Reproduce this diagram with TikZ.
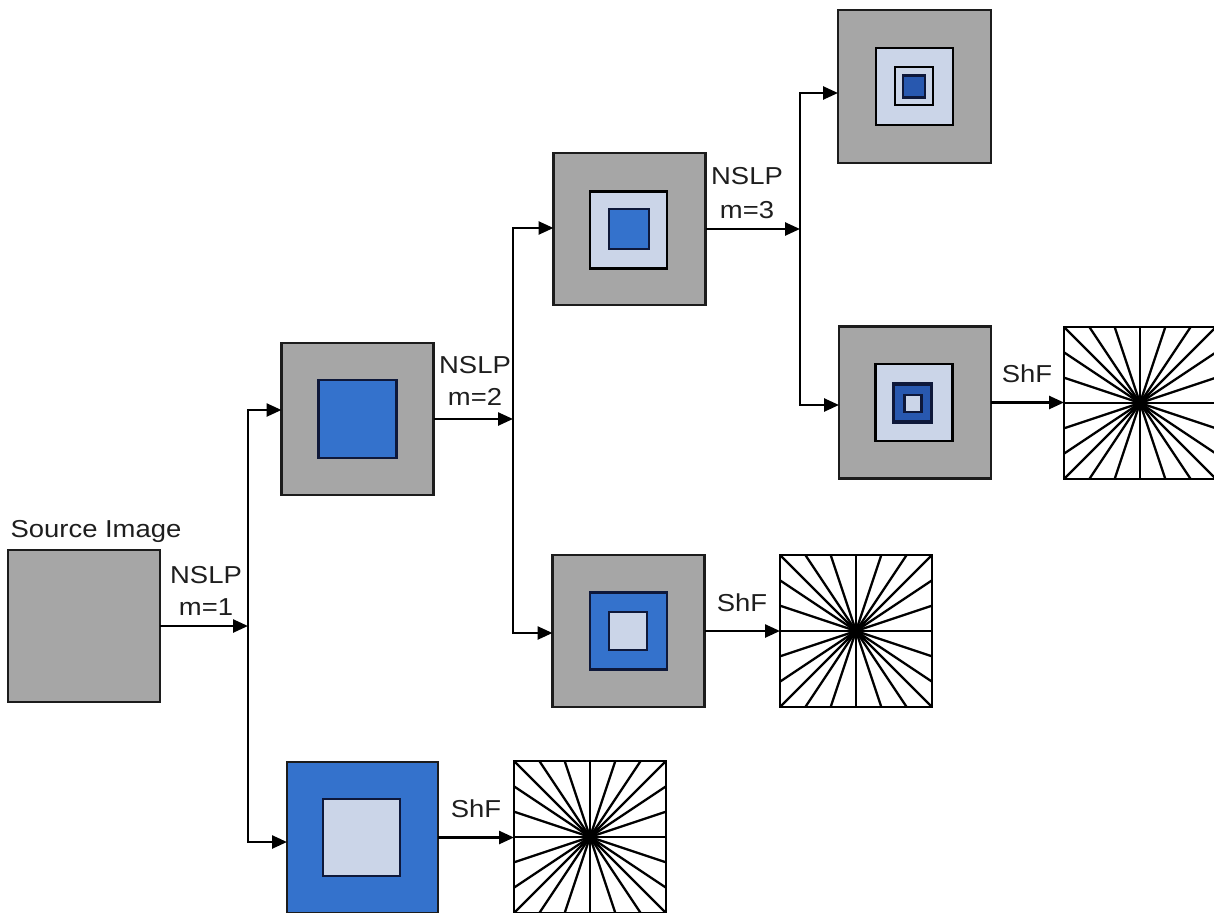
\documentclass[tikz,border=0pt]{standalone}
\usepackage{fontspec}
\usepackage{graphicx}
\setmainfont{Liberation Sans}
\usetikzlibrary{arrows.meta}
\definecolor{boxgray}{RGB}{166,166,166}
\definecolor{boxblue}{RGB}{52,114,204}
\definecolor{boxlight}{RGB}{203,213,232}
\definecolor{edgec}{RGB}{28,28,28}
\definecolor{navy}{RGB}{14,24,58}
\definecolor{ringblue}{RGB}{40,88,175}
\definecolor{txt}{RGB}{30,30,30}
\newcommand{\sx}[1]{\scalebox{1.12}[1]{#1}}
\tikzset{
  sq/.style={draw=edgec, line width=2.6pt, inner sep=0pt, outer sep=0pt, minimum size=#1},
  graysq/.style={sq=#1, fill=boxgray},
  bluesq/.style={sq=#1, fill=boxblue, draw=navy},
  lightsq/.style={sq=#1, fill=boxlight, draw=navy},
  fansq/.style={sq=#1, fill=white, draw=black},
  lbl/.style={font=\fontsize{24.5}{28}\selectfont, text=txt, inner sep=0pt, anchor=base},
  conn/.style={draw=black, line width=2.5pt},
  arr/.style={conn, -{Triangle[length=15pt,width=13pt]}},
  biarr/.style={conn, {Triangle[length=15pt,width=13pt]}-{Triangle[length=15pt,width=13pt]}},
  fanln/.style={draw=black, line width=2.3pt}
}
\begin{document}
\begin{tikzpicture}[x=1pt, y=-1pt]
\useasboundingbox (0,0) rectangle (1214,912);

% ---- boxes ----
\node[graysq=152] (src) at (84,626) {};
\node[graysq=152] (b1) at (357.5,419) {};
\node[bluesq=78] (b1i) at (357.5,419) {};

\node[bluesq=151, draw=edgec] (b0) at (362.5,837.5) {};
\node[lightsq=77] (b0i) at (361.5,837.5) {};

\node[graysq=152] (b2a) at (629.5,229) {};
\node[lightsq=77, draw=black] (b2ai) at (628.5,230) {};
\node[bluesq=40] (b2aii) at (629,229) {};

\node[graysq=152] (b2b) at (628.5,631) {};
\node[bluesq=77, draw=navy] (b2bi) at (628.5,631) {};
\node[lightsq=38] (b2bii) at (628,631) {};

\node[graysq=153] (b3a) at (914.5,86.5) {};
\node[lightsq=77, draw=black] (b3ai) at (914.5,86.5) {};
\node[lightsq=38, draw=black] (b3aii) at (914,86) {};
\node[bluesq=22, fill=ringblue] (b3aiii) at (914,86.5) {};

\node[graysq=152] (b3b) at (915,402.5) {};
\node[lightsq=77, draw=black] (b3bi) at (914,402.5) {};
\node[bluesq=38, fill=ringblue, line width=3.2pt] (b3bii) at (912.5,403) {};
\node[lightsq=17, line width=2.4pt] (b3biii) at (913,403.5) {};

% ---- fan (ShF) boxes ----
\node[fansq=152] (f0) at (590,837) {};
\node[fansq=152] (f2) at (856,631) {};
\node[fansq=152] (f3) at (1140,403) {};
\foreach \f in {f0,f2,f3}{
  \begin{scope}[shift={(\f.center)}]
    \foreach \t in {-3,-2,-1,0,1,2,3}{
      \draw[fanln] (0,0) -- (\t*76/3,76);
      \draw[fanln] (0,0) -- (\t*76/3,-76);
    }
    \foreach \t in {-2,-1,0,1,2}{
      \draw[fanln] (0,0) -- (76,\t*76/3);
      \draw[fanln] (0,0) -- (-76,\t*76/3);
    }
    \fill[black] (0,0) circle (5pt);
  \end{scope}
  \node[fansq=152, fill=none] at (\f.center) {};
}

% ---- junction coordinates ----
\coordinate (j1t) at (248,410);
\coordinate (j1b) at (248,842);
\coordinate (j2t) at (513,228);
\coordinate (j2b) at (513,633);
\coordinate (j3t) at (800,93);
\coordinate (j3b) at (800,405);

% ---- connectors ----
\draw[arr] (src.east) -- (src.east -| j1t);
\draw[biarr] (j1t -| b1.west) -- (j1t) -- (j1b) -- (j1b -| b0.west);

\draw[arr] (b1.east) -- (b1.east -| j2t);
\draw[biarr] (j2t -| b2a.west) -- (j2t) -- (j2b) -- (j2b -| b2b.west);

\draw[arr] (b2a.east) -- (b2a.east -| j3t);
\draw[biarr] (j3t -| b3a.west) -- (j3t) -- (j3b) -- (j3b -| b3b.west);

\draw[arr] (b0.east) -- (b0.east -| f0.west);
\draw[arr] (b2b.east) -- (b2b.east -| f2.west);
\draw[arr] (b3b.east) -- (b3b.east -| f3.west);

% ---- labels ----
\node[lbl] (srclbl) at (96,537) {\sx{Source Image}};
\node[lbl] (n1a) at (206,583) {\sx{NSLP}};
\node[lbl] (n1b) at (206,615) {\sx{m=1}};
\node[lbl] (n2a) at (475,373) {\sx{NSLP}};
\node[lbl] (n2b) at (475,405) {\sx{m=2}};
\node[lbl] (n3a) at (747,185) {\sx{NSLP}};
\node[lbl] (n3b) at (747,218) {\sx{m=3}};
\node[lbl] (s0) at (476,817) {\sx{ShF}};
\node[lbl] (s2) at (742,611) {\sx{ShF}};
\node[lbl] (s3) at (1027,382) {\sx{ShF}};
\end{tikzpicture}
\end{document}
